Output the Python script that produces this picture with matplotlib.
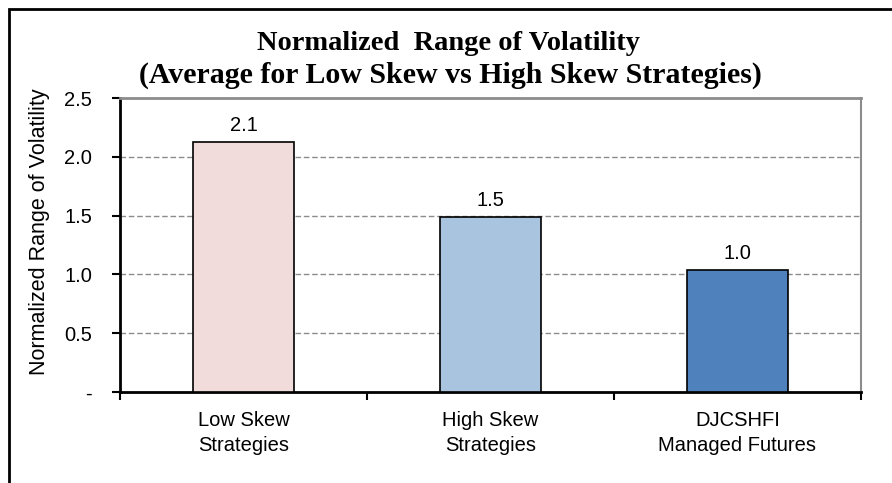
import matplotlib
matplotlib.use("Agg")

import numpy as np
import matplotlib.pyplot as plt
from matplotlib.patches import Rectangle

# Дані
categories = ["Low Skew\nStrategies", "High Skew\nStrategies", "DJCSHFI\nManaged Futures"]
values = [2.13, 1.49, 1.04]
labels = ["2.1", "1.5", "1.0"]
colors = ["#F2DCDB", "#A9C4DF", "#4F81BD"]
y_ticks = [0.0, 0.5, 1.0, 1.5, 2.0, 2.5]
y_tick_labels = ["-", "0.5", "1.0", "1.5", "2.0", "2.5"]

W, H = 892, 483
fig = plt.figure(figsize=(W / 100, H / 100), dpi=100)
plt.rcParams["font.family"] = ["Liberation Sans", "DejaVu Sans"]

# Рамка навколо діаграми
fig.patches.append(Rectangle((9 / W, -0.1), 1.2, (H - 9) / H + 0.1, transform=fig.transFigure,
                             fill=False, edgecolor="black", linewidth=2))

ax = fig.add_axes([120 / W, (H - 392) / H, (861 - 120) / W, (392 - 98) / H])

x = np.arange(len(categories))
ax.bar(x, values, width=0.405, color=colors, edgecolor="black", linewidth=1.2, zorder=3)

for xi, v, lab in zip(x, values, labels):
    ax.annotate(lab, (xi, v), xytext=(0, 5), textcoords="offset points",
                ha="center", va="bottom", fontsize=14.5)

ax.set_xlim(-0.5, 2.5)
ax.set_ylim(0, 2.5)
ax.set_yticks(y_ticks)
ax.set_yticklabels(y_tick_labels, fontsize=14.5)
ax.set_xticks(x)
ax.set_xticklabels(categories, fontsize=14.5, linespacing=1.4)
ax.set_xticks([-0.5, 0.5, 1.5, 2.5], minor=True)
ax.tick_params(axis="x", which="major", length=0, pad=14)
ax.tick_params(axis="x", which="minor", length=6, width=1.5)
ax.tick_params(axis="y", length=6, width=1.5, pad=14)

# Сітка
for yv in y_ticks[1:-1]:
    ax.axhline(yv, color="#8c8c8c", linestyle=(0, (4, 2)), linewidth=1, zorder=1)

ax.spines["left"].set_linewidth(2)
ax.spines["bottom"].set_linewidth(2)
ax.spines["top"].set_color("#8c8c8c")
ax.spines["top"].set_linewidth(2)
ax.spines["right"].set_color("#8c8c8c")
ax.spines["right"].set_linewidth(1.5)

ax.set_ylabel("Normalized Range of Volatility", fontsize=15.5)
ax.yaxis.set_label_coords(-0.095, 0.544)

fig.text(448 / W, 1 - 44 / H, "Normalized  Range of Volatility", ha="center", va="center",
         fontsize=20.5, fontweight="bold", family="Liberation Serif")
fig.text(450 / W, 1 - 75 / H, "(Average for Low Skew vs High Skew Strategies)", ha="center",
         va="center", fontsize=21.5, fontweight="bold", family="Liberation Serif")

fig.savefig("out.png", dpi=100)
